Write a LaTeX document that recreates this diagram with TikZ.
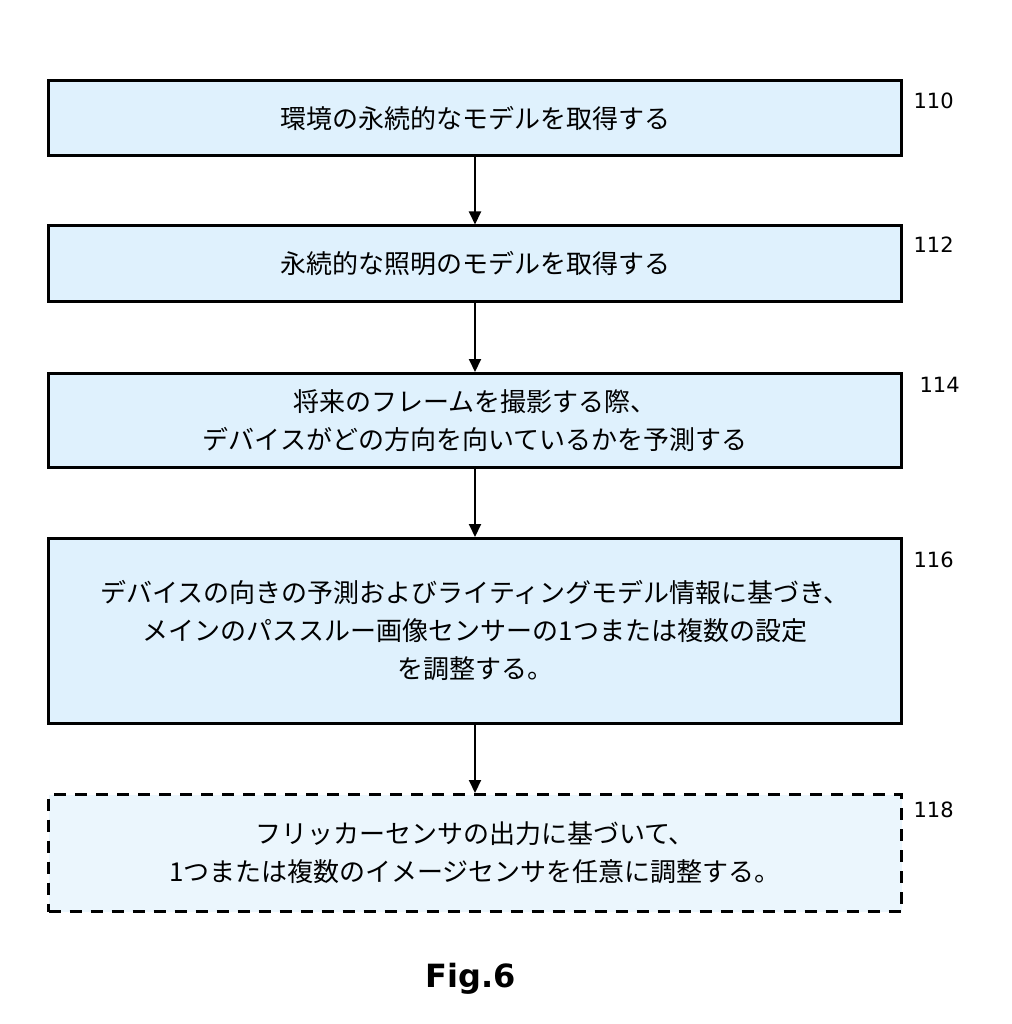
\documentclass[tikz,border=0pt]{standalone}
\usepackage{fontspec}
\usepackage{xcolor}
\setmainfont{Noto Sans CJK JP}
\newfontfamily\labelfont{DejaVu Sans}
\usetikzlibrary{arrows.meta,positioning}

\definecolor{stepfill}{HTML}{DFF1FD}
\definecolor{optfill}{HTML}{EBF6FD}

\begin{document}
\begin{tikzpicture}[x=1pt,y=-1pt]
            \tikzset{stepbox/.style = {draw, line width=3pt, fill=stepfill, minimum width=853pt,
                     align=center, font=\fontsize{26}{38}\selectfont, inner sep=0pt}}
            \tikzset{optbox/.style = {stepbox, fill=optfill, dash pattern=on 12pt off 9pt}}
            \tikzset{reflabel/.style = {anchor=west, font=\labelfont\fontsize{21}{24}\selectfont}}
            \tikzset{edge/.style = {line width=2pt, -{Triangle[length=13pt,width=12pt]}}}

            \useasboundingbox (0,0) rectangle (1011,1024);

            % steps
            \node[stepbox, minimum height=75pt] (s110) at (475,118) {環境の永続的なモデルを取得する};
            \node[stepbox, minimum height=75pt] (s112) at (475,263.5) {永続的な照明のモデルを取得する};
            \node[stepbox, minimum height=94pt] (s114) at (475,420.5) {将来のフレームを撮影する際、\\デバイスがどの方向を向いているかを予測する};
            \node[stepbox, minimum height=185pt] (s116) at (475,631) {デバイスの向きの予測およびライティングモデル情報に基づき、\\メインのパススルー画像センサーの1つまたは複数の設定\\を調整する。};
            \node[optbox, minimum height=117pt] (s118) at (475,853) {フリッカーセンサの出力に基づいて、\\1つまたは複数のイメージセンサを任意に調整する。};

            % reference numbers
            \node[reflabel] (n110) at (910,101) {110};
            \node[reflabel] (n112) at (910,245) {112};
            \node[reflabel] (n114) at (916,385) {114};
            \node[reflabel] (n116) at (910,560) {116};
            \node[reflabel] (n118) at (910,810) {118};

            % arrows
            \draw[edge] (s110) -- (s112);
            \draw[edge] (s112) -- (s114);
            \draw[edge] (s114) -- (s116);
            \draw[edge] (s116) -- (s118);

            \node[font=\labelfont\bfseries\fontsize{32}{36}\selectfont] (fig) at (471,979) {Fig.6};
          \end{tikzpicture}
\end{document}
